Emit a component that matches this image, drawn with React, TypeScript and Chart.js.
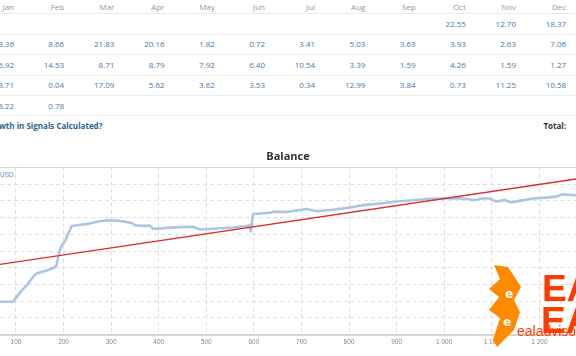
import React, { useEffect, useRef } from "react";
import { Chart, registerables } from "chart.js";

Chart.register(...registerables);

// ---- Table data ----
const MONTHS = ["Jan", "Feb", "Mar", "Apr", "May", "Jun", "Jul", "Aug", "Sep", "Oct", "Nov", "Dec"];
const ROW_A = ["", "", "", "", "", "", "", "", "", "22.55", "12.70", "18.37"];
const ROW_B = ["3.36", "8.66", "21.83", "20.16", "1.82", "0.72", "3.41", "5.03", "3.63", "3.93", "2.63", "7.06"];
const ROW_C = ["6.92", "14.53", "8.71", "8.79", "7.92", "6.40", "10.54", "3.39", "1.59", "4.26", "1.59", "1.27"];
const ROW_D = ["3.71", "0.04", "17.09", "5.62", "3.62", "3.53", "0.34", "12.99", "3.84", "0.73", "11.25", "10.58"];
const ROW_E = ["8.22", "0.78", "", "", "", "", "", "", "", "", "", ""];
const TABLE_ROWS = [ROW_A, ROW_B, ROW_C, ROW_D, ROW_E];

// ---- Chart data ----
const TRADE_NO = [
  0, 94, 101.5, 112, 122.5, 136.4, 143.5, 164.6, 175, 182, 185.6, 189, 192.5, 196, 203, 210, 217,
  227.6, 248.6, 269.7, 290.7, 311.7, 332.7, 343.2, 350.2, 367.6, 381.7, 388.6, 416.8, 444.8, 472.7,
  486.8, 521.9, 556.8, 585, 591.9, 593.4, 597.6, 600.3, 627, 637.5, 640.9, 669, 697, 711, 732, 760,
  795, 830, 865, 900, 935, 970, 997, 1032, 1053, 1063, 1081, 1095, 1105.5, 1112.6, 1126.5, 1140.5,
  1158, 1186, 1214, 1235, 1249, 1263, 1277, 1290,
];
const BALANCE = [
  980, 980, 1126, 1322, 1468, 1740, 1828, 1915, 1974, 2018, 2099, 2354, 2529, 2661, 2792, 3026, 3246,
  3269, 3304, 3377, 3421, 3415, 3368, 3339, 3269, 3251, 3260, 3158, 3193, 3216, 3222,
  3143, 3172, 3202, 3251, 3275, 3056, 3582, 3611, 3640, 3655, 3678, 3670, 3728, 3757, 3690, 3728,
  3787, 3874, 3924, 3982, 4021, 4064, 4070, 4079, 4050, 4021, 4079, 4070, 4000, 3982, 4029, 3953,
  4000, 4070, 4099, 4128, 4196, 4181, 4167, 4160,
];
const TREND_X = [0, 1300];
const TREND_Y = [1960, 4705];

const X_MIN = 66.4;
const X_MAX = 1277;
const X_STEP = 100;
const Y_MIN = 0;
const Y_MAX = 5000;
const Y_STEP = 500;

const fmtThousands = (v: number) => String(v).replace(/\B(?=(\d{3})+(?!\d))/g, " ");

function BalanceChart() {
  const ref = useRef<HTMLCanvasElement | null>(null);
  useEffect(() => {
    if (!ref.current) return;
    const chart = new Chart(ref.current, {
      type: "line",
      data: {
        datasets: [
          {
            label: "Trend",
            data: TREND_X.map((x, i) => ({ x, y: TREND_Y[i] })),
            borderColor: "#dd2a2e",
            borderWidth: 1.4,
            pointRadius: 0,
            tension: 0,
          },
          {
            label: "Balance",
            data: TRADE_NO.map((x, i) => ({ x, y: BALANCE[i] })),
            borderColor: "#abc6e3",
            borderWidth: 2.6,
            pointRadius: 0,
            tension: 0,
          },
        ],
      },
      options: {
        animation: false,
        responsive: false,
        devicePixelRatio: 1,
        layout: { padding: { left: 0, right: 0, top: 0, bottom: 5.7 } },
        plugins: {
          legend: { display: false },
          tooltip: { enabled: false },
          title: {
            display: true,
            text: "Balance",
            color: "#333",
            font: { family: "'Open Sans'", size: 11, weight: "bold" },
            padding: { top: 10.4, bottom: 3.9 },
          },
        },
        scales: {
          x: {
            type: "linear",
            min: X_MIN,
            max: X_MAX,
            afterBuildTicks: (scale: any) => {
              const ticks: any[] = [];
              for (let v = Math.ceil(X_MIN / X_STEP) * X_STEP; v <= X_MAX; v += X_STEP) {
                ticks.push({ value: v });
              }
              scale.ticks = ticks;
            },
            ticks: {
              stepSize: X_STEP,
              autoSkip: false,
              maxRotation: 0,
              padding: 4,
              color: "#888888",
              font: { family: "'Liberation Sans'", size: 6.5 },
              callback: (v: any) => fmtThousands(Number(v)),
            },
            grid: { color: "#dedede", lineWidth: 1, drawTicks: false },
            border: { display: true, color: "#d4d4d4", width: 2, dash: [4, 3] },
          },
          y: {
            type: "linear",
            min: Y_MIN,
            max: Y_MAX,
            ticks: { display: false, stepSize: Y_STEP },
            grid: {
              drawTicks: false,
              color: (ctx: any) => (ctx.tick && ctx.tick.value === Y_MAX ? "#d8d8d8" : "#e0e0e0"),
              lineWidth: 1,
            },
            border: {
              display: false,
              dash: (ctx: any) => (ctx.tick && ctx.tick.value === Y_MAX ? [] : [4, 3]),
            },
          },
        },
      },
    } as any);
    return () => chart.destroy();
  }, []);
  return (
    <canvas
      ref={ref}
      width={576}
      height={216}
      style={{ position: "absolute", left: 0, top: 140, width: 576, height: 216 }}
    />
  );
}

const COL_RIGHT0 = 14;
const COL_W = 50.2;
const ROW_CENTERS = [24, 44, 65, 85, 106];
const SEP_Y = [13, 34, 54, 75, 95, 115];

export default function App() {
  const cellFont = "'Open Sans', sans-serif";
  return (
    <div
      style={{
        position: "fixed",
        left: 0,
        top: 0,
        width: 576,
        height: 356,
        overflow: "hidden",
        background: "#fff",
        fontFamily: cellFont,
      }}
    >
      {SEP_Y.map((y, i) => (
        <div key={"s" + i} style={{ position: "absolute", left: 0, top: y, width: 576, height: 1, background: "#ececec" }} />
      ))}
      {MONTHS.map((m, i) => (
        <div
          key={"h" + i}
          style={{
            position: "absolute",
            left: COL_RIGHT0 + COL_W * i - 50,
            width: 50,
            top: 1,
            lineHeight: "12px",
            fontSize: 8,
            textAlign: "right",
            color: "#959595",
          }}
        >
          {m}
        </div>
      ))}
      {TABLE_ROWS.map((row, r) =>
        row.map((v, i) =>
          v ? (
            <div
              key={"c" + r + "_" + i}
              style={{
                position: "absolute",
                left: COL_RIGHT0 + COL_W * i - 50,
                width: 50,
                top: ROW_CENTERS[r] - 6,
                lineHeight: "12px",
                fontSize: 8,
                textAlign: "right",
                color: "#4379aa",
              }}
            >
              {v}
            </div>
          ) : null
        )
      )}
      <div
        style={{
          position: "absolute",
          left: -1,
          top: 120,
          lineHeight: "12px",
          fontSize: 8,
          fontWeight: "bold",
          color: "#2f5f8f",
          whiteSpace: "nowrap",
        }}
      >
        <span style={{ position: "absolute", right: "100%" }}>How is the Gro</span>
        wth in Signals Calculated?
      </div>
      <div
        style={{
          position: "absolute",
          right: 10,
          top: 120,
          lineHeight: "12px",
          fontSize: 8,
          fontWeight: "bold",
          color: "#333",
        }}
      >
        Total:
      </div>
      <BalanceChart />
      <div
        style={{
          position: "absolute",
          left: 0,
          width: 12,
          top: 171,
          lineHeight: "8px",
          fontSize: 6.5,
          textAlign: "right",
          color: "#5b8fc7",
          fontFamily: "'Liberation Sans', sans-serif",
        }}
      >
        USD
      </div>
      <svg
        width={576}
        height={356}
        style={{ position: "absolute", left: 0, top: 0, pointerEvents: "none" }}
      >
        <polygon
          points="494,265 508,267 521,287 514,300 520,312 514,330 497,347 493,340 500,318 489,310 499,297 489,289 500,279"
          fill="#ff8a00"
        />
        <text x={505} y={298} fontSize={12} fontWeight="bold" fill="#fff" fontFamily="'DejaVu Sans'">e</text>
        <text x={503} y={326} fontSize={12} fontWeight="bold" fill="#fff" fontFamily="'DejaVu Sans'">e</text>
        <text x={542} y={301} fontSize={37} fontWeight="bold" fill="#ff3a00" fontFamily="'Liberation Sans'">EA</text>
        <text x={541} y={333} fontSize={37} fontWeight="bold" fill="#ff3a00" fontFamily="'Liberation Sans'">EA</text>
        <text x={517} y={336} fontSize={14} fill="#ff3a00" fontFamily="'Liberation Sans'">ealadvisor</text>
      </svg>
    </div>
  );
}
